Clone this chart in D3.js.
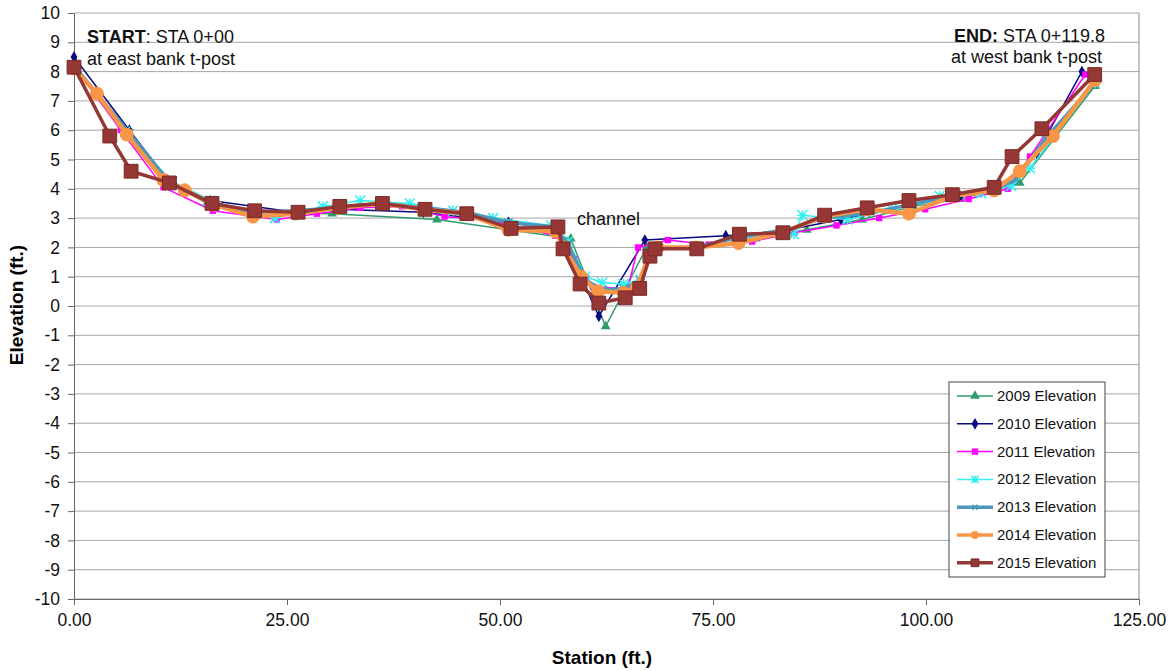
<!DOCTYPE html>
<html>
<head>
<meta charset="utf-8">
<script src="https://cdn.jsdelivr.net/npm/d3@7"></script>
<style>
  body { margin: 0; background: #fff; }
  text { font-family: Arial, "Liberation Sans", sans-serif; }
</style>
</head>
<body>
<div id="chart"></div>
<script>
// station / elevation per survey year
var sta2009 = [0, 6.5, 11, 16, 21, 30.3, 42.6, 58.3, 62.4, 67.2, 73, 80, 86, 92.5, 98.5, 104, 111, 119.8];
var elev2009 = [8.2, 5.9, 4.2, 3.5, 3.2, 3.15, 2.95, 2.3, -0.7, 2.0, 2.0, 2.3, 2.6, 2.95, 3.4, 3.65, 4.2, 7.5];

var sta2010 = [0, 6.5, 11, 16, 26, 31, 41, 51, 57, 61.6, 67, 76.5, 83, 90, 98, 104, 108.5, 113, 118.3];
var elev2010 = [8.5, 6.0, 4.3, 3.6, 3.2, 3.3, 3.2, 2.85, 2.6, -0.35, 2.25, 2.4, 2.55, 2.95, 3.45, 3.75, 4.05, 5.2, 8.0];

var sta2011 = [0, 5.5, 10.5, 16.3, 23.8, 28.5, 33.6, 38.5, 43.5, 48.5, 56.5, 58.7, 61, 65, 66.2, 69.7, 74.5, 79.6, 84.5, 89.5, 94.5, 99.9, 105, 109.6, 112.2, 118.7];
var elev2011 = [8.2, 6.0, 4.05, 3.25, 2.95, 3.15, 3.35, 3.4, 3.05, 2.95, 2.4, 1.6, 0.65, 0.6, 2.0, 2.25, 2.1, 2.2, 2.5, 2.75, 3.0, 3.3, 3.65, 4.0, 5.1, 7.9];

var sta2012 = [0, 6, 11.5, 16, 23.6, 29.2, 33.6, 39.4, 44.5, 49.2, 56, 58, 60, 62, 64.5, 66.5, 68, 73, 79, 84.5, 85.5, 90.8, 96, 101.6, 106.5, 110, 112.2, 119.8];
var elev2012 = [8.2, 5.95, 4.25, 3.6, 3.0, 3.4, 3.6, 3.5, 3.25, 3.0, 2.75, 2.2, 1.0, 0.8, 0.75, 0.9, 2.0, 2.05, 2.35, 2.45, 3.1, 2.95, 3.3, 3.75, 3.85, 4.1, 4.7, 7.6];

var sta2013 = [0, 6.5, 11, 15.5, 21, 26, 31, 36, 41, 46, 51, 56.5, 58, 60, 62, 64.5, 66.5, 68, 73, 78, 83.5, 88, 93, 98, 103, 108, 110.5, 114, 119.8];
var elev2013 = [8.2, 5.9, 4.3, 3.55, 3.2, 3.25, 3.35, 3.5, 3.35, 3.2, 2.85, 2.7, 2.1, 0.9, 0.55, 0.6, 0.85, 2.0, 2.0, 2.35, 2.6, 3.0, 3.15, 3.45, 3.75, 4.0, 4.3, 5.7, 7.6];

var sta2014 = [0, 2.7, 6.2, 10.5, 13, 16.5, 21, 26, 31, 36, 41, 46, 51, 56.5, 57.5, 59.5, 61.5, 64.5, 66, 67.5, 68.5, 73, 78, 83, 88, 93, 98, 103, 108, 111, 114.9, 119.8];
var elev2014 = [8.1, 7.25, 5.85, 4.3, 3.95, 3.45, 3.05, 3.15, 3.35, 3.5, 3.3, 3.15, 2.6, 2.55, 2.0, 1.0, 0.5, 0.45, 0.6, 1.7, 2.0, 2.0, 2.15, 2.5, 3.05, 3.3, 3.15, 3.75, 3.95, 4.6, 5.8, 7.7];

var sta2015 = [0, 4.2, 6.7, 11.2, 16.2, 21.2, 26.3, 31.2, 36.2, 41.2, 46.1, 51.3, 56.8, 57.4, 59.4, 61.6, 64.7, 66.4, 67.6, 68.2, 73.1, 78.1, 83.2, 88.1, 93.1, 98.0, 103.1, 108.0, 110.1, 113.6, 119.8];
var elev2015 = [8.15, 5.8, 4.6, 4.2, 3.5, 3.25, 3.2, 3.4, 3.5, 3.3, 3.15, 2.65, 2.7, 1.95, 0.75, 0.1, 0.28, 0.6, 1.7, 1.95, 1.95, 2.45, 2.5, 3.1, 3.35, 3.6, 3.8, 4.05, 5.1, 6.05, 7.9];

var seriesNames = ["2009 Elevation", "2010 Elevation", "2011 Elevation", "2012 Elevation", "2013 Elevation", "2014 Elevation", "2015 Elevation"];
var xTicks = [0, 25, 50, 75, 100, 125];
var yTicks = d3.range(-10, 11, 1);

var series = [
    {name: seriesNames[0], sta: sta2009, elev: elev2009, color: "#2f9c6c", width: 1.5, marker: "triangle", size: 42},
    {name: seriesNames[1], sta: sta2010, elev: elev2010, color: "#0a0a80", width: 1.5, marker: "diamond", size: 40},
    {name: seriesNames[2], sta: sta2011, elev: elev2011, color: "#ff00ff", width: 1.5, marker: "square", size: 40},
    {name: seriesNames[3], sta: sta2012, elev: elev2012, color: "#33f0f0", width: 1.5, marker: "star", size: 5},
    {name: seriesNames[4], sta: sta2013, elev: elev2013, color: "#4a98bc", width: 3.5, marker: "cross", size: 4},
    {name: seriesNames[5], sta: sta2014, elev: elev2014, color: "#f79646", width: 4.5, marker: "circle", size: 150},
    {name: seriesNames[6], sta: sta2015, elev: elev2015, color: "#953735", width: 3.5, marker: "square", size: 190}
];

var margin = {top: 13, right: 33, bottom: 72, left: 74},
    fullW = 1172, fullH = 671,
    width = fullW - margin.left - margin.right,
    height = fullH - margin.top - margin.bottom;

var svg = d3.select("#chart")
    .append("svg")
    .attr("width", fullW)
    .attr("height", fullH)
    .append("g")
    .attr("transform", "translate(" + margin.left + "," + margin.top + ")");

var x = d3.scaleLinear().domain([0, 125]).range([0, width]);
var y = d3.scaleLinear().domain([-10, 10]).range([height, 0]);

// gridlines
svg.selectAll(".grid")
    .data(yTicks)
    .enter()
    .append("line")
    .attr("x1", 0)
    .attr("x2", width)
    .attr("y1", function(d) { return y(d); })
    .attr("y2", function(d) { return y(d); })
    .attr("stroke", "#a6a6a6")
    .attr("stroke-width", 1);

// plot frame right
svg.append("line").attr("x1", width).attr("x2", width).attr("y1", 0).attr("y2", height)
    .attr("stroke", "#8c8c8c");

// axes
var xAxis = svg.append("g")
    .attr("transform", "translate(0," + height + ")")
    .call(d3.axisBottom(x).tickValues(xTicks).tickSize(6).tickSizeOuter(0).tickFormat(d3.format(".2f")));
xAxis.select(".domain").attr("stroke", "#666");
xAxis.selectAll(".tick line").attr("stroke", "#666");
xAxis.selectAll("text").style("font-size", "17.5px").attr("fill", "#111").attr("y", 15).attr("dy", "0.71em");

var yAxis = svg.append("g")
    .call(d3.axisLeft(y).tickValues(yTicks).tickSize(6).tickSizeOuter(0).tickFormat(function(d) { return String(d); }));
yAxis.select(".domain").attr("stroke", "#666");
yAxis.selectAll(".tick line").attr("stroke", "#666");
yAxis.selectAll("text").style("font-size", "17.5px").attr("fill", "#111").attr("x", -14);

// axis titles
svg.append("text")
    .attr("x", 602 - margin.left)
    .attr("y", 664 - margin.top)
    .attr("text-anchor", "middle")
    .style("font-size", "19px")
    .style("font-weight", "bold")
    .text("Station (ft.)");

svg.append("text")
    .attr("transform", "translate(" + (23 - margin.left) + "," + (305 - margin.top) + ")rotate(-90)")
    .attr("text-anchor", "middle")
    .style("font-size", "19px")
    .style("font-weight", "bold")
    .text("Elevation (ft.)");

function markerPath(s) {
    if (s.marker == "star") {
        var r = s.size;
        return "M" + (-r) + "," + (-r) + "L" + r + "," + r + "M" + (-r) + "," + r + "L" + r + "," + (-r) +
            "M0," + (-r) + "L0," + r + "M" + (-r) + ",0L" + r + ",0";
    }
    if (s.marker == "cross") {
        var c = s.size;
        return "M" + (-c) + "," + (-c) + "L" + c + "," + c + "M" + (-c) + "," + c + "L" + c + "," + (-c);
    }
    var type = {triangle: d3.symbolTriangle, diamond: d3.symbolDiamond, square: d3.symbolSquare, circle: d3.symbolCircle}[s.marker];
    return d3.symbol().type(type).size(s.size)();
}

function drawMarker(g, s) {
    var p = g.append("path").attr("d", markerPath(s));
    if (s.marker == "star" || s.marker == "cross") {
        p.attr("fill", "none").attr("stroke", s.color).attr("stroke-width", 1.5);
    } else {
        p.attr("fill", s.color);
        if (s.name == "2015 Elevation") p.attr("stroke", "#7a2a28").attr("stroke-width", 1);
    }
    return p;
}

var line = d3.line()
    .x(function(d) { return x(d[0]); })
    .y(function(d) { return y(d[1]); });

series.forEach(function(s) {
    var pts = s.sta.map(function(v, i) { return [v, s.elev[i]]; });
    var g = svg.append("g");
    g.append("path")
        .datum(pts)
        .attr("d", line)
        .attr("fill", "none")
        .attr("stroke", s.color)
        .attr("stroke-width", s.width)
        .attr("stroke-linejoin", "round");
    pts.forEach(function(p) {
        var mg = g.append("g").attr("transform", "translate(" + x(p[0]) + "," + y(p[1]) + ")");
        drawMarker(mg, s);
    });
});

// annotations
var start = svg.append("text").attr("x", 13).attr("y", 30).style("font-size", "18px").attr("fill", "#111");
start.append("tspan").style("font-weight", "bold").text("START");
start.append("tspan").text(": STA 0+00");
svg.append("text").attr("x", 13).attr("y", 52).style("font-size", "18px").attr("fill", "#111").text("at east bank t-post");

var end = svg.append("text").attr("x", width - 34).attr("y", 29).attr("text-anchor", "end").style("font-size", "18px").attr("fill", "#111");
end.append("tspan").style("font-weight", "bold").text("END:");
end.append("tspan").text(" STA 0+119.8");
svg.append("text").attr("x", width - 37).attr("y", 50).attr("text-anchor", "end").style("font-size", "18px").attr("fill", "#111").text("at west bank t-post");

svg.append("text").attr("x", 503).attr("y", 212).style("font-size", "18px").attr("fill", "#111").text("channel");

// legend
var lg = svg.append("g").attr("transform", "translate(" + (949 - margin.left) + "," + (382 - margin.top) + ")");
lg.append("rect")
    .attr("width", 156)
    .attr("height", 195)
    .attr("fill", "#fff")
    .attr("stroke", "#444")
    .attr("stroke-width", 1);

series.forEach(function(s, i) {
    var row = lg.append("g").attr("transform", "translate(0," + (14 + i * 27.8) + ")");
    row.append("line")
        .attr("x1", 8).attr("x2", 44)
        .attr("stroke", s.color)
        .attr("stroke-width", Math.min(s.width, 3.5));
    var small = Object.assign({}, s);
    if (s.marker == "circle") small.size = 50;
    if (s.marker == "square" && s.size > 100) small.size = 60;
    if (s.marker == "star") small.size = 3.5;
    if (s.marker == "cross") small.size = 2.5;
    var mg = row.append("g").attr("transform", "translate(26,0)");
    drawMarker(mg, small);
    row.append("text")
        .attr("x", 48)
        .attr("y", 5)
        .style("font-size", "15px")
        .attr("fill", "#111")
        .text(s.name);
});
</script>
</body>
</html>
